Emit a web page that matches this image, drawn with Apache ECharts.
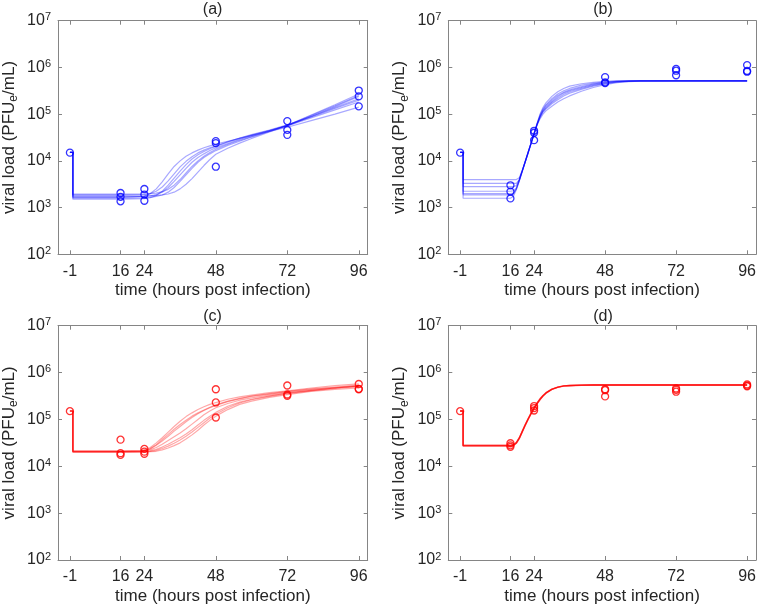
<!DOCTYPE html>
<html><head><meta charset="utf-8">
<script src="https://cdn.jsdelivr.net/npm/echarts@6/dist/echarts.min.js"></script>
<style>html,body{margin:0;padding:0;background:#fff}#c{width:759px;height:607px}</style>
</head><body><div id="c"></div><script>
// ---- tick labels / titles ----
const xTickValues = [-1, 16, 24, 48, 72, 96];
const panelTitles = ['(a)', '(b)', '(c)', '(d)'];
const xAxisTitle = 'time (hours post infection)';
const yAxisTitle = 'viral load (PFU{e|e}/mL)';

// ---- model time grids (hours) ----
const tAC = [-1, 0, 0, 16, 24, 26, 28, 30, 32, 34, 36, 38, 40, 42, 44, 46, 48, 52, 56, 60, 66, 72, 80, 88, 96];
const tBD = [-1, 0, 0, 16, 17, 18, 19, 20, 21, 22, 23, 24, 25, 26, 27, 28, 30, 32, 34, 36, 40, 44, 48, 52, 56, 60, 72, 96];

// ---- model curves, read as log10(viral load) ----
const a1 = [4.18, 4.18, 3.22, 3.22, 3.24, 3.3, 3.4, 3.55, 3.72, 3.88, 4.0, 4.1, 4.17, 4.23, 4.28, 4.32, 4.36, 4.42, 4.48, 4.54, 4.63, 4.72, 4.86, 5.0, 5.15];
const a2 = [4.18, 4.18, 3.27, 3.27, 3.28, 3.3, 3.35, 3.44, 3.57, 3.72, 3.87, 3.99, 4.09, 4.17, 4.23, 4.28, 4.32, 4.41, 4.49, 4.56, 4.66, 4.77, 4.94, 5.12, 5.3];
const a3 = [4.18, 4.18, 3.23, 3.23, 3.24, 3.25, 3.28, 3.33, 3.43, 3.56, 3.7, 3.84, 3.97, 4.07, 4.15, 4.22, 4.28, 4.37, 4.46, 4.54, 4.65, 4.76, 4.95, 5.14, 5.33];
const a4 = [4.18, 4.18, 3.2, 3.2, 3.21, 3.22, 3.24, 3.27, 3.33, 3.43, 3.56, 3.7, 3.84, 3.97, 4.07, 4.15, 4.22, 4.33, 4.42, 4.51, 4.63, 4.75, 4.95, 5.16, 5.38];
const a5 = [4.18, 4.18, 3.25, 3.25, 3.25, 3.25, 3.26, 3.27, 3.29, 3.33, 3.4, 3.5, 3.62, 3.76, 3.9, 4.03, 4.14, 4.27, 4.38, 4.48, 4.62, 4.76, 4.98, 5.2, 5.43];
const a6 = [4.18, 4.18, 3.18, 3.18, 3.19, 3.21, 3.26, 3.35, 3.48, 3.63, 3.78, 3.92, 4.04, 4.13, 4.2, 4.26, 4.31, 4.4, 4.48, 4.55, 4.65, 4.75, 4.92, 5.09, 5.26];
const a7 = [4.18, 4.18, 3.29, 3.29, 3.29, 3.3, 3.31, 3.34, 3.39, 3.48, 3.6, 3.74, 3.88, 4.0, 4.1, 4.18, 4.25, 4.35, 4.44, 4.52, 4.64, 4.76, 4.97, 5.18, 5.4];

const b1 = [4.18, 4.18, 3.6, 3.6, 3.6, 3.6, 3.64, 3.8, 3.99, 4.19, 4.39, 4.59, 4.8, 5.0, 5.14, 5.24, 5.38, 5.48, 5.55, 5.6, 5.65, 5.68, 5.7, 5.71, 5.71, 5.71, 5.71, 5.71];
const b2 = [4.18, 4.18, 3.45, 3.45, 3.45, 3.47, 3.6, 3.79, 3.98, 4.18, 4.38, 4.58, 4.79, 4.98, 5.11, 5.2, 5.33, 5.43, 5.5, 5.55, 5.62, 5.66, 5.69, 5.705, 5.71, 5.71, 5.71, 5.71];
const b3 = [4.18, 4.18, 3.35, 3.35, 3.36, 3.42, 3.59, 3.78, 3.98, 4.18, 4.38, 4.58, 4.78, 4.95, 5.07, 5.15, 5.27, 5.37, 5.45, 5.5, 5.57, 5.63, 5.67, 5.695, 5.705, 5.71, 5.71, 5.71];
const b4 = [4.18, 4.18, 3.27, 3.27, 3.29, 3.4, 3.58, 3.78, 3.98, 4.18, 4.38, 4.58, 4.77, 4.93, 5.04, 5.11, 5.22, 5.31, 5.39, 5.45, 5.53, 5.6, 5.65, 5.685, 5.7, 5.71, 5.71, 5.71];
const b5 = [4.18, 4.18, 3.2, 3.2, 3.24, 3.38, 3.57, 3.77, 3.97, 4.17, 4.37, 4.57, 4.76, 4.9, 5.0, 5.07, 5.17, 5.26, 5.33, 5.39, 5.49, 5.57, 5.63, 5.675, 5.695, 5.705, 5.71, 5.71];
const b6 = [4.18, 4.18, 3.52, 3.52, 3.52, 3.52, 3.6, 3.79, 3.99, 4.19, 4.39, 4.59, 4.79, 4.96, 5.09, 5.18, 5.3, 5.4, 5.47, 5.52, 5.59, 5.645, 5.68, 5.7, 5.71, 5.71, 5.71, 5.71];
const b7 = [4.18, 4.18, 3.3, 3.3, 3.31, 3.4, 3.58, 3.78, 3.98, 4.18, 4.38, 4.58, 4.78, 4.94, 5.06, 5.13, 5.25, 5.34, 5.42, 5.48, 5.55, 5.615, 5.66, 5.69, 5.705, 5.71, 5.71, 5.71];

const c1 = [5.18, 5.18, 4.33, 4.33, 4.34, 4.4, 4.5, 4.61, 4.73, 4.85, 4.96, 5.06, 5.14, 5.21, 5.27, 5.32, 5.36, 5.43, 5.48, 5.52, 5.57, 5.61, 5.67, 5.72, 5.76];
const c2 = [5.18, 5.18, 4.32, 4.32, 4.32, 4.37, 4.45, 4.54, 4.64, 4.75, 4.85, 4.95, 5.04, 5.12, 5.19, 5.25, 5.3, 5.38, 5.44, 5.49, 5.54, 5.59, 5.64, 5.68, 5.72];
const c3 = [5.18, 5.18, 4.31, 4.31, 4.32, 4.35, 4.4, 4.47, 4.55, 4.63, 4.71, 4.8, 4.9, 5.0, 5.1, 5.18, 5.25, 5.34, 5.41, 5.46, 5.52, 5.57, 5.62, 5.67, 5.71];
const c4 = [5.18, 5.18, 4.3, 4.3, 4.31, 4.33, 4.36, 4.41, 4.47, 4.54, 4.61, 4.69, 4.78, 4.88, 4.98, 5.07, 5.15, 5.28, 5.37, 5.43, 5.5, 5.56, 5.62, 5.67, 5.71];
const c5 = [5.18, 5.18, 4.3, 4.3, 4.3, 4.31, 4.32, 4.35, 4.39, 4.44, 4.5, 4.58, 4.67, 4.77, 4.88, 4.98, 5.07, 5.21, 5.32, 5.39, 5.47, 5.53, 5.6, 5.64, 5.67];
const c6 = [5.18, 5.18, 4.32, 4.32, 4.33, 4.38, 4.46, 4.57, 4.68, 4.79, 4.89, 4.98, 5.07, 5.14, 5.2, 5.26, 5.31, 5.39, 5.45, 5.5, 5.55, 5.6, 5.65, 5.69, 5.73];
const c7 = [5.18, 5.18, 4.31, 4.31, 4.31, 4.32, 4.34, 4.38, 4.43, 4.49, 4.56, 4.64, 4.73, 4.83, 4.93, 5.03, 5.11, 5.25, 5.35, 5.42, 5.49, 5.55, 5.61, 5.66, 5.7];

const d1 = [5.18, 5.18, 4.45, 4.45, 4.46, 4.51, 4.61, 4.75, 4.89, 5.02, 5.14, 5.25, 5.35, 5.44, 5.51, 5.57, 5.645, 5.69, 5.715, 5.725, 5.732, 5.734, 5.734, 5.734, 5.734, 5.734, 5.734, 5.734];
const d2 = [5.18, 5.18, 4.44, 4.44, 4.45, 4.5, 4.6, 4.74, 4.88, 5.01, 5.13, 5.24, 5.34, 5.43, 5.5, 5.56, 5.64, 5.69, 5.715, 5.725, 5.732, 5.734, 5.734, 5.734, 5.734, 5.734, 5.734, 5.734];
const d3 = [5.18, 5.18, 4.43, 4.43, 4.44, 4.49, 4.59, 4.73, 4.87, 5.0, 5.12, 5.23, 5.33, 5.42, 5.5, 5.56, 5.64, 5.685, 5.71, 5.72, 5.73, 5.734, 5.734, 5.734, 5.734, 5.734, 5.734, 5.734];

// ---- measured data (time, PFUe/mL) ----
const dataTimes = [-1, 16, 16, 16, 24, 24, 24, 48, 48, 48, 72, 72, 72, 96, 96, 96];
const dataA = [1.5e4, 2.05e3, 1.7e3, 1.36e3, 2.5e3, 1.9e3, 1.4e3, 2.65e4, 2.4e4, 7.5e3, 7.1e4, 4.6e4, 3.6e4, 3.2e5, 2.4e5, 1.47e5];
const dataB = [1.5e4, 3.0e3, 2.2e3, 1.57e3, 4.4e4, 4.0e4, 2.77e4, 6.2e5, 4.8e5, 4.6e5, 9.3e5, 8.5e5, 6.8e5, 1.12e6, 8.4e5, 8.1e5];
const dataC = [1.5e5, 3.7e4, 1.9e4, 1.75e4, 2.35e4, 2.05e4, 1.85e4, 4.4e5, 2.3e5, 1.1e5, 5.3e5, 3.4e5, 3.2e5, 5.7e5, 4.5e5, 4.4e5];
const dataD = [1.5e5, 3.1e4, 2.8e4, 2.6e4, 1.93e5, 1.75e5, 1.55e5, 4.4e5, 4.2e5, 3.1e5, 4.6e5, 4.3e5, 3.9e5, 5.6e5, 5.3e5, 5.1e5];

// ---- build ----
const BLUE = '#0000ff', RED = '#ff0000';
const FONT = '"Liberation Sans", Arial, Helvetica, sans-serif';
const TXT = '#262626', AX = '#858585';
const grids = [
  {left: 57.5, top: 20.7, width: 310.2, height: 233.6},
  {left: 448.3, top: 20.7, width: 309.4, height: 233.6},
  {left: 57.5, top: 325.7, width: 310.2, height: 234.3},
  {left: 448.3, top: 325.7, width: 309.4, height: 234.3}
];
const panels = [
  {times: tAC, curves: [a1, a2, a3, a4, a5, a6, a7], data: dataA, color: BLUE, op: 0.34, w: 1.2},
  {times: tBD, curves: [b1, b2, b3, b4, b5, b6, b7], data: dataB, color: BLUE, op: 0.34, w: 1.2},
  {times: tAC, curves: [c1, c2, c3, c4, c5, c6, c7], data: dataC, color: RED, op: 0.34, w: 1.2},
  {times: tBD, curves: [d1, d2, d3], data: dataD, color: RED, op: 0.6, w: 1.4}
];

const xAxes = [], yAxes = [], series = [], titles = [];
grids.forEach((g, i) => {
  xAxes.push({
    type: 'value', gridIndex: i, min: -5, max: 99, position: 'bottom',
    axisLine: {show: true, onZero: false, lineStyle: {color: AX, width: 1}},
    axisTick: {show: true, inside: true, length: 4, customValues: xTickValues, lineStyle: {color: AX}},
    axisLabel: {show: true, customValues: xTickValues, color: TXT, fontSize: 16, fontFamily: FONT, margin: 9},
    splitLine: {show: false},
    name: xAxisTitle, nameLocation: 'middle', nameGap: 28,
    nameTextStyle: {color: TXT, fontSize: 17, fontFamily: FONT}
  });
  xAxes.push({
    type: 'value', gridIndex: i, min: -5, max: 99, position: 'top',
    axisLine: {show: true, onZero: false, lineStyle: {color: AX, width: 1}},
    axisTick: {show: true, inside: true, length: 4, customValues: xTickValues, lineStyle: {color: AX}},
    axisLabel: {show: false}, splitLine: {show: false}
  });
  yAxes.push({
    type: 'log', logBase: 10, gridIndex: i, min: 1e2, max: 1e7, position: 'left',
    axisLine: {show: true, onZero: false, lineStyle: {color: AX, width: 1}},
    axisTick: {show: true, inside: true, length: 4, lineStyle: {color: AX}},
    axisLabel: {
      show: true, margin: 7,
      formatter: v => '{b|10}{s|' + Math.round(Math.log10(v)) + '}',
      rich: {
        b: {fontSize: 16, color: TXT, fontFamily: FONT},
        s: {fontSize: 11, color: TXT, fontFamily: FONT, verticalAlign: 'top', padding: [0, 0, 7, 0]}
      }
    },
    splitLine: {show: false}, minorTick: {show: false},
    name: yAxisTitle, nameLocation: 'middle', nameGap: 38,
    nameTextStyle: {color: TXT, fontSize: 17, fontFamily: FONT,
      rich: {e: {fontSize: 12, color: TXT, fontFamily: FONT, verticalAlign: 'bottom', padding: [9, 0, 0, 0]}}}
  });
  yAxes.push({
    type: 'log', logBase: 10, gridIndex: i, min: 1e2, max: 1e7, position: 'right',
    axisLine: {show: true, onZero: false, lineStyle: {color: AX, width: 1}},
    axisTick: {show: true, inside: true, length: 4, lineStyle: {color: AX}},
    axisLabel: {show: false}, splitLine: {show: false}
  });
  titles.push({
    text: panelTitles[i], left: g.left + g.width / 2, top: i < 2 ? 1.5 : 308.5, textAlign: 'center',
    padding: 0,
    textStyle: {color: TXT, fontSize: 16, fontWeight: 'normal', fontFamily: FONT}
  });
  const p = panels[i];
  p.curves.forEach(c => {
    series.push({
      type: 'line', xAxisIndex: 2 * i, yAxisIndex: 2 * i, silent: true, animation: false,
      symbol: 'none', showSymbol: false, z: 2,
      lineStyle: {color: p.color, width: p.w, opacity: p.op},
      data: p.times.map((t, k) => [t, Math.pow(10, c[k])])
    });
  });
  series.push({
    type: 'scatter', xAxisIndex: 2 * i, yAxisIndex: 2 * i, silent: true, animation: false,
    symbol: 'circle', symbolSize: 7, z: 5,
    itemStyle: {color: 'rgba(255,255,255,0)', borderColor: p.color, borderWidth: 1.3},
    data: dataTimes.map((t, k) => [t, p.data[k]])
  });
});

const chart = echarts.init(document.getElementById('c'), null, {renderer: 'canvas'});
chart.setOption({
  backgroundColor: '#ffffff',
  animation: false,
  title: titles,
  grid: grids,
  xAxis: xAxes,
  yAxis: yAxes,
  series: series
});
</script></body></html>
